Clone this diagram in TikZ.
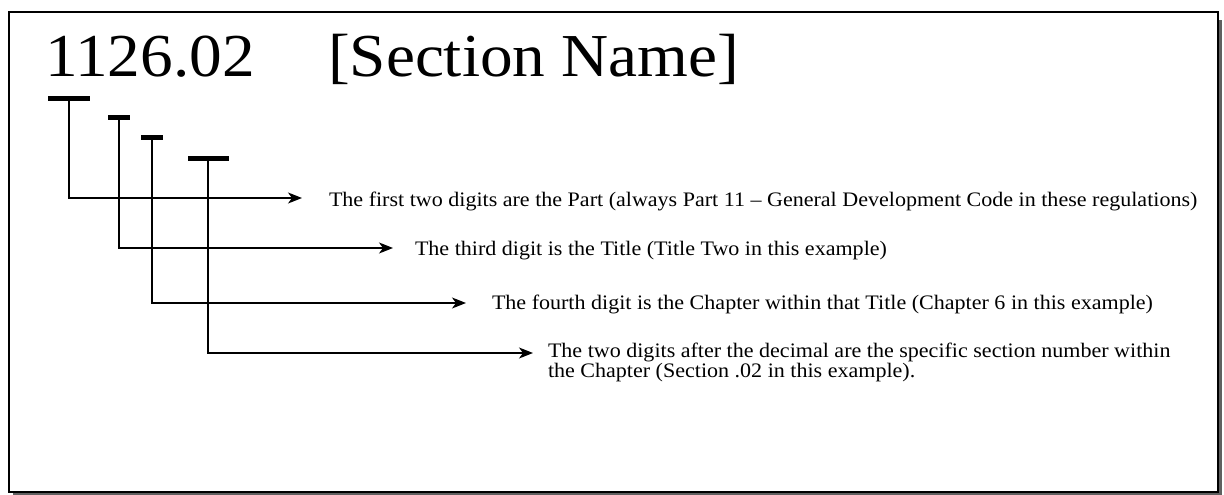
\documentclass[tikz,border=0pt]{standalone}
\usepackage{fontspec}
\setmainfont{Liberation Serif}[FakeStretch=1.07]
\usetikzlibrary{arrows.meta}
\tikzset{
  digitbar/.style={fill=black,draw=none,minimum height=4.5pt,inner sep=0pt,outer sep=0pt,rectangle},
  desc/.style={anchor=base west,inner sep=0pt,outer sep=0pt,font=\fontsize{20.6}{21}\selectfont},
  bigtitle/.style={anchor=base west,inner sep=0pt,outer sep=0pt,font=\fontsize{61}{61}\selectfont},
  link/.style={line width=1.4pt,-{Stealth[length=14pt,width=11pt,inset=4pt]}},
}
\begin{document}
\begin{tikzpicture}[x=1pt,y=-1pt]
\useasboundingbox (0,0) rectangle (1224,495);
% frame with shadow
\fill[gray!75!black] (13,20) rectangle (1222,496);
\draw[line width=1.5pt,fill=white] (9,12) rectangle (1218,492);
% title
\node[bigtitle] (num) at (45,77) {1126.02};
\node[bigtitle] (name) at (328,77) {[Section Name]};
% bars
\node[digitbar,minimum width=42pt] (b1) at (69,98.5) {};
\node[digitbar,minimum width=22pt] (b2) at (119,117.5) {};
\node[digitbar,minimum width=22pt] (b3) at (152,137.5) {};
\node[digitbar,minimum width=41pt] (b4) at (208,158.5) {};
% arrow tips
\coordinate (e1) at (302,198);
\coordinate (e2) at (393,248);
\coordinate (e3) at (466,303);
\coordinate (e4) at (533,353);
% texts
\node[desc] (t1) at (329,206) {The first two digits are the Part (always Part 11 -- General Development Code in these regulations)};
\node[desc] (t2) at (415,255) {The third digit is the Title (Title Two in this example)};
\node[desc] (t3) at (492,309) {The fourth digit is the Chapter within that Title (Chapter 6 in this example)};
\node[desc] (t4) at (548,357) {The two digits after the decimal are the specific section number within};
\node[desc] (t4b) at (548,377) {the Chapter (Section .02 in this example).};
% connectors
\draw[link] (b1.south) |- (e1);
\draw[link] (b2.south) |- (e2);
\draw[link] (b3.south) |- (e3);
\draw[link] (b4.south) |- (e4);
\end{tikzpicture}
\end{document}
